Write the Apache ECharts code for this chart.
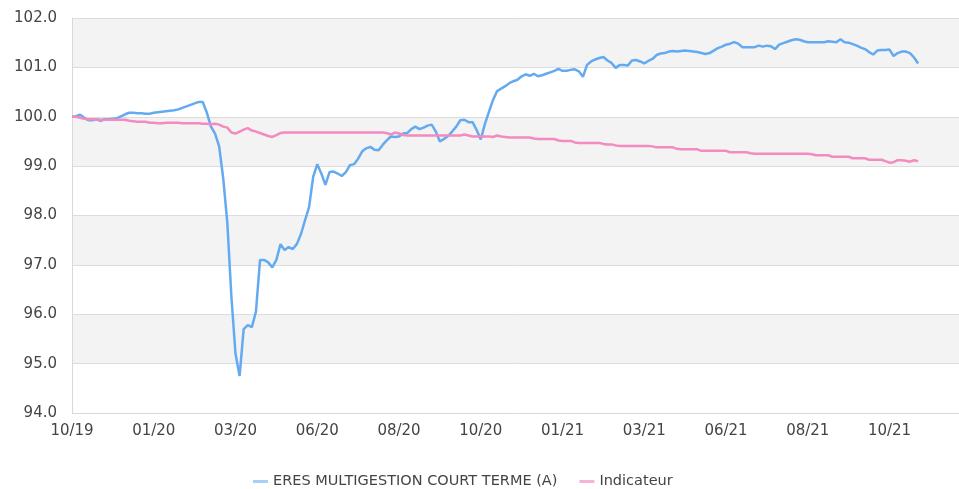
<!DOCTYPE html>
<html>
<head>
<meta charset="utf-8">
<script src="https://cdn.jsdelivr.net/npm/echarts@6/dist/echarts.min.js"></script>
<style>
  html, body { margin: 0; padding: 0; background: #fff; }
  #main { width: 959px; height: 489px; }
</style>
</head>
<body>
<div id="main"></div>
<script>
// month labels, one every 20 samples
var xLabels = ['10/19', '01/20', '03/20', '06/20', '08/20', '10/20', '01/21', '03/21', '06/21', '08/21', '10/21'];

// ERES MULTIGESTION COURT TERME (A), base 100
var fundValues = [
  100.00, 100.01, 100.04, 99.98, 99.93, 99.93, 99.95, 99.92, 99.95, 99.95,
  99.96, 99.97, 100.01, 100.05, 100.08, 100.08, 100.07, 100.07, 100.06, 100.06,
  100.08, 100.09, 100.10, 100.11, 100.12, 100.13, 100.15, 100.18, 100.21, 100.24,
  100.27, 100.30, 100.30, 100.08, 99.80, 99.66, 99.40, 98.75, 97.85, 96.35,
  95.20, 94.75, 95.70, 95.78, 95.74, 96.05, 97.10, 97.10, 97.05, 96.95,
  97.10, 97.42, 97.30, 97.36, 97.32, 97.42, 97.62, 97.90, 98.17, 98.78,
  99.04, 98.85, 98.62, 98.88, 98.89, 98.85, 98.80, 98.88, 99.02, 99.04,
  99.15, 99.30, 99.36, 99.39, 99.33, 99.32, 99.43, 99.52, 99.60, 99.59,
  99.60, 99.66, 99.67, 99.75, 99.80, 99.75, 99.78, 99.82, 99.84, 99.70,
  99.50, 99.55, 99.61, 99.70, 99.80, 99.93, 99.94, 99.89, 99.89, 99.73,
  99.54, 99.85, 100.10, 100.34, 100.52, 100.57, 100.62, 100.68, 100.72, 100.75,
  100.82, 100.86, 100.83, 100.87, 100.82, 100.84, 100.87, 100.90, 100.93, 100.97,
  100.93, 100.93, 100.95, 100.96, 100.92, 100.81, 101.05, 101.12, 101.16, 101.19,
  101.21, 101.14, 101.09, 100.99, 101.05, 101.05, 101.04, 101.14, 101.15, 101.12,
  101.08, 101.13, 101.17, 101.25, 101.28, 101.29, 101.32, 101.33, 101.32, 101.33,
  101.34, 101.33, 101.32, 101.31, 101.29, 101.27, 101.29, 101.34, 101.39, 101.42,
  101.46, 101.48, 101.51, 101.48, 101.41, 101.41, 101.41, 101.41, 101.44, 101.42,
  101.44, 101.43, 101.37, 101.46, 101.49, 101.52, 101.55, 101.57, 101.56, 101.53,
  101.51, 101.51, 101.51, 101.51, 101.51, 101.53, 101.52, 101.51, 101.57, 101.51,
  101.50, 101.47, 101.44, 101.40, 101.37, 101.31, 101.26, 101.34, 101.35, 101.35,
  101.36, 101.23, 101.29, 101.32, 101.32, 101.29, 101.20, 101.08
];

// Indicateur, base 100
var indexValues = [
  100.00, 100.00, 99.98, 99.96, 99.95, 99.95, 99.95, 99.94, 99.94, 99.94,
  99.94, 99.94, 99.94, 99.94, 99.92, 99.91, 99.90, 99.90, 99.90, 99.88,
  99.88, 99.87, 99.87, 99.88, 99.88, 99.88, 99.88, 99.87, 99.87, 99.87,
  99.87, 99.87, 99.86, 99.86, 99.85, 99.86, 99.84, 99.80, 99.78, 99.68,
  99.66, 99.70, 99.74, 99.77, 99.72, 99.70, 99.67, 99.64, 99.61, 99.59,
  99.63, 99.67, 99.68, 99.68, 99.68, 99.68, 99.68, 99.68, 99.68, 99.68,
  99.68, 99.68, 99.68, 99.68, 99.68, 99.68, 99.68, 99.68, 99.68, 99.68,
  99.68, 99.68, 99.68, 99.68, 99.68, 99.68, 99.68, 99.67, 99.64, 99.68,
  99.66, 99.63, 99.62, 99.62, 99.62, 99.62, 99.62, 99.62, 99.62, 99.62,
  99.62, 99.62, 99.62, 99.62, 99.62, 99.62, 99.64, 99.62, 99.60, 99.60,
  99.60, 99.60, 99.60, 99.59, 99.62, 99.60, 99.59, 99.58, 99.58, 99.58,
  99.58, 99.58, 99.58, 99.56, 99.55, 99.55, 99.55, 99.55, 99.55, 99.52,
  99.51, 99.51, 99.51, 99.48, 99.47, 99.47, 99.47, 99.47, 99.47, 99.47,
  99.45, 99.44, 99.44, 99.42, 99.41, 99.41, 99.41, 99.41, 99.41, 99.41,
  99.41, 99.41, 99.40, 99.38, 99.38, 99.38, 99.38, 99.38, 99.35, 99.34,
  99.34, 99.34, 99.34, 99.34, 99.31, 99.31, 99.31, 99.31, 99.31, 99.31,
  99.31, 99.28, 99.28, 99.28, 99.28, 99.28, 99.26, 99.25, 99.25, 99.25,
  99.25, 99.25, 99.25, 99.25, 99.25, 99.25, 99.25, 99.25, 99.25, 99.25,
  99.25, 99.24, 99.22, 99.22, 99.22, 99.22, 99.19, 99.19, 99.19, 99.19,
  99.19, 99.16, 99.16, 99.16, 99.16, 99.13, 99.13, 99.13, 99.13, 99.10,
  99.07, 99.08, 99.12, 99.12, 99.11, 99.09, 99.12, 99.10
];

var labelStep = 20;
var axisEnd = 217;

function toPairs(arr) {
  return arr.map(function (v, i) { return [i, v]; });
}

var chart = echarts.init(document.getElementById('main'));
chart.setOption({
  animation: false,
  grid: { left: 72, right: 0, top: 18, bottom: 76 },
  legend: {
    left: 248,
    top: 469,
    itemWidth: 15,
    itemHeight: 3,
    itemGap: 22,
    icon: 'rect',
    textStyle: { color: '#444', fontSize: 14.5, fontFamily: 'DejaVu Sans' },
    data: [
      { name: 'ERES MULTIGESTION COURT TERME (A)', itemStyle: { color: '#a8cff6' } },
      { name: 'Indicateur', itemStyle: { color: '#f7b3d6' } }
    ]
  },
  xAxis: {
    type: 'value',
    min: 0,
    max: axisEnd,
    interval: labelStep,
    axisLine: { lineStyle: { color: '#d9d9d9' } },
    axisTick: { show: false },
    splitLine: { show: false },
    axisLabel: {
      color: '#444',
      fontSize: 15,
      fontFamily: 'DejaVu Sans',
      margin: 11,
      showMaxLabel: false,
      formatter: function (v) {
        return v % labelStep === 0 ? (xLabels[v / labelStep] || '') : '';
      }
    }
  },
  yAxis: {
    type: 'value',
    min: 94,
    max: 102,
    interval: 1,
    axisLine: { show: true, lineStyle: { color: '#d9d9d9' } },
    axisTick: { show: false },
    splitLine: { lineStyle: { color: '#dcdcdc' } },
    splitArea: { show: true, areaStyle: { color: ['#ffffff', '#f3f3f3'] } },
    axisLabel: {
      color: '#444',
      fontSize: 15,
      fontFamily: 'DejaVu Sans',
      margin: 15,
      formatter: function (v) { return v.toFixed(1); }
    }
  },
  series: [
    {
      name: 'ERES MULTIGESTION COURT TERME (A)',
      type: 'line',
      showSymbol: false,
      data: toPairs(fundValues),
      lineStyle: { width: 2.5, color: '#64aaf0' },
      itemStyle: { color: '#64aaf0' }
    },
    {
      name: 'Indicateur',
      type: 'line',
      showSymbol: false,
      data: toPairs(indexValues),
      lineStyle: { width: 2.5, color: '#f38bc0' },
      itemStyle: { color: '#f38bc0' }
    }
  ]
});
</script>
</body>
</html>
